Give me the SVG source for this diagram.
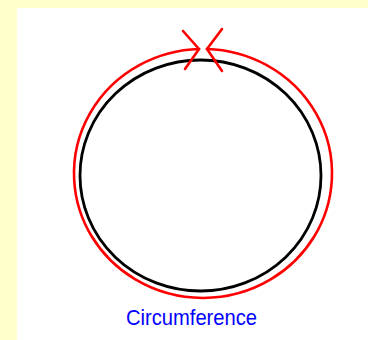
<svg xmlns="http://www.w3.org/2000/svg" width="368" height="340" viewBox="0 0 368 340">
<style>
.red{fill:none;stroke:#ff0000;stroke-width:2.6;stroke-linecap:round}
.blk{fill:none;stroke:#000000;stroke-width:2.8}
.lbl{font-family:"Liberation Sans",Arial,sans-serif;font-size:22px;fill:#0000ff}
</style>
<rect x="0" y="0" width="368" height="340" fill="#ffffcc"/>
<rect x="17" y="8" width="351" height="332" fill="#ffffff"/>
<g id="circle">
<ellipse class="blk" cx="200.5" cy="175.5" rx="120.5" ry="115.5"/>
</g>
<g id="circumference">
<path class="red" d="M199,49 A129,124.5 0 1 0 207,49"/>
<path class="red" d="M183,31 L199,49 L185,69"/>
<path class="red" d="M222,29 L207,49 L222,71"/>
</g>
<g id="label">
<text class="lbl" x="126" y="325" textLength="131" lengthAdjust="spacingAndGlyphs">Circumference</text>
</g>
</svg>
